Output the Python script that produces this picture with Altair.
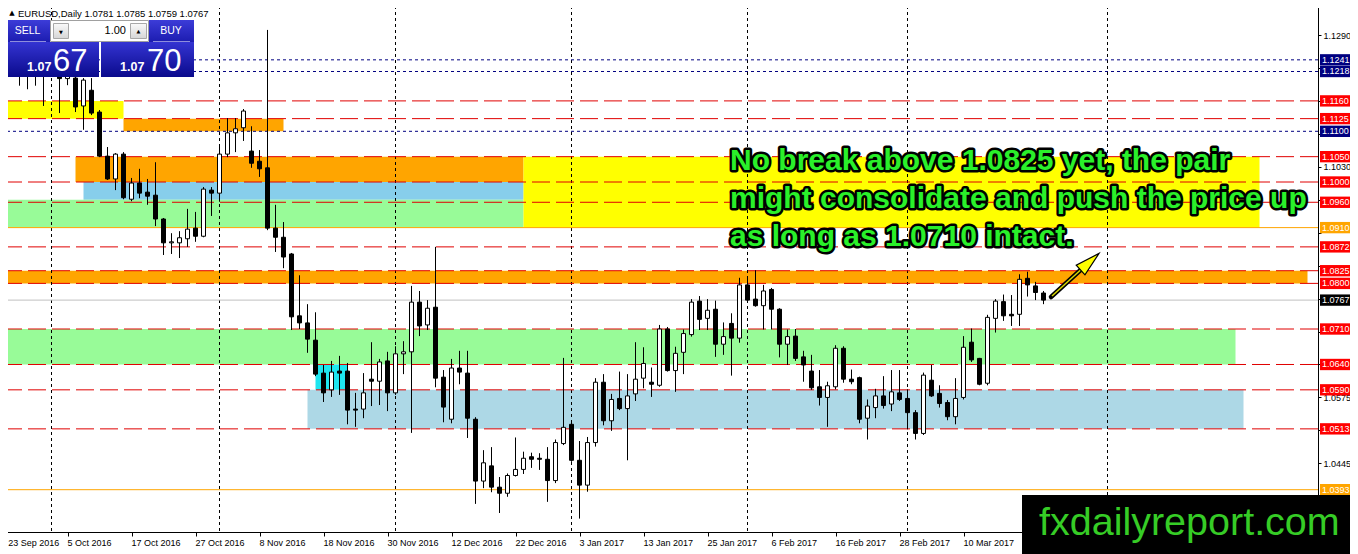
import altair as alt
import pandas as pd

# ---------------- data ----------------
opens = [1.1222, 1.1232, 1.1250, 1.1215, 1.1222, 1.1228, 1.1240, 1.1212, 1.1204, 1.1205,
         1.1150, 1.1181, 1.1138, 1.1051, 1.1006, 1.1055, 1.0966, 1.0998, 1.0980, 1.0974,
         1.0927, 1.0880, 1.0880, 1.0888, 1.0909, 1.0893, 1.0984, 1.0978, 1.1055, 1.1097,
         1.1107, 1.1061, 1.1041, 1.1028, 1.0909, 1.0891, 1.0858, 1.0736, 1.0722, 1.0688,
         1.0623, 1.0590, 1.0627, 1.0627, 1.0552, 1.0552, 1.0611, 1.0607, 1.0647, 1.0584,
         1.0661, 1.0665, 1.0763, 1.0718, 1.0753, 1.0615, 1.0532, 1.0633, 1.0623, 1.0532,
         1.0410, 1.0440, 1.0398, 1.0386, 1.0421, 1.0433, 1.0458, 1.0455, 1.0453, 1.0411,
         1.0484, 1.0522, 1.0451, 1.0402, 1.0486, 1.0605, 1.0529, 1.0573, 1.0553, 1.0582,
         1.0613, 1.0605, 1.0599, 1.0710, 1.0628, 1.0664, 1.0699, 1.0765, 1.0731, 1.0749,
         1.0680, 1.0721, 1.0692, 1.0797, 1.0769, 1.0756, 1.0788, 1.0749, 1.0680, 1.0696,
         1.0655, 1.0627, 1.0596, 1.0575, 1.0596, 1.0672, 1.0611, 1.0614, 1.0534, 1.0555,
         1.0578, 1.0562, 1.0584, 1.0573, 1.0545, 1.0504, 1.0609, 1.0583, 1.0565, 1.0537,
         1.0575, 1.0684, 1.0652, 1.0603, 1.0731, 1.0764, 1.0739, 1.0739, 1.0810, 1.0795,
         1.0781]
highs = [1.1245, 1.1258, 1.1256, 1.1240, 1.1252, 1.1250, 1.1250, 1.1218, 1.1245, 1.1212,
         1.1205, 1.1205, 1.1142, 1.1069, 1.1057, 1.1059, 1.1008, 1.1026, 1.1006, 1.1039,
         1.0929, 1.0899, 1.0903, 1.0947, 1.0941, 1.0990, 1.0990, 1.1073, 1.1126, 1.1126,
         1.1144, 1.1110, 1.1063, 1.1300, 1.0955, 1.0921, 1.0860, 1.0816, 1.0759, 1.0743,
         1.0639, 1.0647, 1.0657, 1.0643, 1.0584, 1.0623, 1.0684, 1.0651, 1.0665, 1.0676,
         1.0686, 1.0795, 1.0785, 1.0767, 1.0872, 1.0629, 1.0651, 1.0667, 1.0667, 1.0536,
         1.0471, 1.0477, 1.0418, 1.0425, 1.0496, 1.0468, 1.0466, 1.0465, 1.0477, 1.0492,
         1.0653, 1.0527, 1.0489, 1.0497, 1.0613, 1.0621, 1.0582, 1.0626, 1.0621, 1.0684,
         1.0674, 1.0634, 1.0718, 1.0714, 1.0675, 1.0709, 1.0769, 1.0775, 1.0769, 1.0766,
         1.0723, 1.0741, 1.0811, 1.0810, 1.0826, 1.0797, 1.0791, 1.0751, 1.0709, 1.0710,
         1.0667, 1.0659, 1.0629, 1.0606, 1.0678, 1.0676, 1.0630, 1.0616, 1.0571, 1.0592,
         1.0617, 1.0629, 1.0629, 1.0591, 1.0550, 1.0624, 1.0639, 1.0599, 1.0570, 1.0613,
         1.0696, 1.0711, 1.0653, 1.0738, 1.0769, 1.0778, 1.0777, 1.0818, 1.0823, 1.0803,
         1.0785]
lows = [1.1190, 1.1212, 1.1190, 1.1183, 1.1190, 1.1150, 1.1208, 1.1136, 1.1191, 1.1138,
        1.1103, 1.1132, 1.1049, 1.1004, 1.0984, 1.0966, 1.0962, 1.0968, 1.0955, 1.0913,
        1.0856, 1.0858, 1.0850, 1.0872, 1.0882, 1.0891, 1.0933, 1.0961, 1.1049, 1.1059,
        1.1081, 1.1028, 1.1010, 1.0905, 1.0862, 1.0830, 1.0708, 1.0710, 1.0663, 1.0617,
        1.0566, 1.0576, 1.0580, 1.0522, 1.0517, 1.0534, 1.0558, 1.0560, 1.0548, 1.0580,
        1.0621, 1.0505, 1.0696, 1.0708, 1.0595, 1.0526, 1.0524, 1.0601, 1.0495, 1.0365,
        1.0396, 1.0388, 1.0347, 1.0379, 1.0419, 1.0424, 1.0436, 1.0432, 1.0369, 1.0406,
        1.0481, 1.0448, 1.0336, 1.0389, 1.0478, 1.0520, 1.0509, 1.0550, 1.0451, 1.0568,
        1.0593, 1.0576, 1.0596, 1.0626, 1.0586, 1.0621, 1.0695, 1.0708, 1.0708, 1.0655,
        1.0659, 1.0618, 1.0683, 1.0764, 1.0754, 1.0709, 1.0709, 1.0654, 1.0639, 1.0647,
        1.0606, 1.0590, 1.0559, 1.0517, 1.0591, 1.0604, 1.0601, 1.0524, 1.0492, 1.0534,
        1.0553, 1.0548, 1.0568, 1.0512, 1.0492, 1.0501, 1.0576, 1.0555, 1.0530, 1.0522,
        1.0571, 1.0645, 1.0599, 1.0599, 1.0703, 1.0726, 1.0716, 1.0716, 1.0774, 1.0767,
        1.0759]
closes = [1.1195, 1.1250, 1.1215, 1.1222, 1.1228, 1.1240, 1.1212, 1.1204, 1.1215, 1.1148,
          1.1201, 1.1136, 1.1051, 1.1006, 1.1055, 1.0969, 1.0998, 1.0978, 1.0972, 1.0927,
          1.0880, 1.0882, 1.0890, 1.0907, 1.0893, 1.0986, 1.0978, 1.1055, 1.1097, 1.1105,
          1.1140, 1.1037, 1.1026, 1.0909, 1.0891, 1.0852, 1.0734, 1.0722, 1.0690, 1.0621,
          1.0584, 1.0625, 1.0623, 1.0550, 1.0550, 1.0584, 1.0607, 1.0645, 1.0584, 1.0661,
          1.0665, 1.0763, 1.0716, 1.0751, 1.0613, 1.0556, 1.0633, 1.0625, 1.0534, 1.0410,
          1.0446, 1.0398, 1.0386, 1.0421, 1.0433, 1.0455, 1.0453, 1.0453, 1.0411, 1.0486,
          1.0516, 1.0451, 1.0402, 1.0486, 1.0605, 1.0529, 1.0571, 1.0553, 1.0578, 1.0611,
          1.0642, 1.0601, 1.0710, 1.0628, 1.0662, 1.0701, 1.0763, 1.0729, 1.0747, 1.0680,
          1.0695, 1.0692, 1.0797, 1.0767, 1.0756, 1.0785, 1.0749, 1.0680, 1.0695, 1.0652,
          1.0639, 1.0594, 1.0575, 1.0598, 1.0672, 1.0611, 1.0606, 1.0532, 1.0558, 1.0578,
          1.0559, 1.0586, 1.0571, 1.0545, 1.0504, 1.0619, 1.0578, 1.0563, 1.0537, 1.0573,
          1.0674, 1.0649, 1.0601, 1.0733, 1.0765, 1.0736, 1.0736, 1.0808, 1.0797, 1.0782,
          1.0767]

date_labels = ["23 Sep 2016", "5 Oct 2016", "17 Oct 2016", "27 Oct 2016", "8 Nov 2016",
               "18 Nov 2016", "30 Nov 2016", "12 Dec 2016", "22 Dec 2016", "3 Jan 2017",
               "13 Jan 2017", "25 Jan 2017", "6 Feb 2017", "16 Feb 2017", "28 Feb 2017",
               "10 Mar 2017"]
label_bars = [0, 8, 16, 24, 32, 40, 48, 56, 64, 72, 80, 88, 96, 104, 112, 120]
month_bars = [6, 27, 49, 71, 93, 113, 138]

price_ticks = [1.0380, 1.0445, 1.0510, 1.0575, 1.0640, 1.0705, 1.0770, 1.0835,
               1.0900, 1.0965, 1.1030, 1.1095, 1.1160, 1.1225, 1.1290]
shown_price_labels = [1.0445, 1.0575, 1.1030, 1.1290]

red_levels = [1.1160, 1.1125, 1.1050, 1.1000, 1.0960, 1.0872, 1.0825, 1.0800,
              1.0710, 1.0640, 1.0590, 1.0513]
navy_levels = [1.1241, 1.1218, 1.1100]
orange_levels = [1.0910, 1.0393]
bid_level = [1.0767]

zone_start = [-2, 15, 9, 10, -2, 65, -2, -2, 38, 39]
zone_end = [15, 35, 65, 65, 65, 157, 163, 154, 155, 43]
zone_top = [1.1160, 1.1125, 1.1050, 1.1000, 1.0965, 1.1050, 1.0825, 1.0710, 1.0590, 1.0640]
zone_bottom = [1.1125, 1.1100, 1.1000, 1.0965, 1.0910, 1.0910, 1.0800, 1.0640, 1.0513, 1.0590]
zone_color = ["#ffff00", "#ffa500", "#ffa500", "#87ceeb", "#98fb98", "#ffff00",
              "#ffa500", "#98fb98", "#add8e6", "#1ee6f0"]

box_levels = [1.1241, 1.1218, 1.1160, 1.1125, 1.1100, 1.1050, 1.1000, 1.0960, 1.0910,
              1.0872, 1.0825, 1.0800, 1.0767, 1.0710, 1.0640, 1.0590, 1.0513, 1.0393]
box_colors = ["#000080", "#000080", "#ff0000", "#ff0000", "#000080", "#ff0000", "#ff0000",
              "#ff0000", "#ffa500", "#ff0000", "#ff0000", "#ff0000", "#000000", "#ff0000",
              "#ff0000", "#ff0000", "#ff0000", "#ffa500"]

note_lines = ["No break above 1.0825 yet, the pair",
              "might consolidate and push the price up",
              "as long as 1.0710 intact."]

header = "EURUSD,Daily  1.0781 1.0785 1.0759 1.0767"

# ---------------- scales / axes ----------------
xs = alt.Scale(domain=[-0.4375, 164.3125], nice=False, zero=False)
ys = alt.Scale(domain=[1.030953, 1.135905], nice=False, zero=False)
FONT = "Liberation Sans"

shown_expr = "indexof([" + ",".join("'%.4f'" % v for v in shown_price_labels) + \
    "], format(datum.value, '.4f')) >= 0 ? format(datum.value, '.4f') : ''"

XA = alt.Axis(values=label_bars, labels=False, title=None, grid=False,
              tickSize=4, domainColor="black", tickColor="black")
YA = alt.Axis(orient="right", values=price_ticks, labelExpr=shown_expr, title=None,
              grid=False, domainColor="black", tickColor="black", tickSize=3,
              labelColor="black", labelFontSize=9, labelFont=FONT, labelPadding=2,
              labelFlush=False, labelOverlap=False)

candles = pd.DataFrame({"i": list(range(len(opens))), "o": opens, "h": highs,
                        "l": lows, "c": closes})
zones = pd.DataFrame({"x0": zone_start, "x1": zone_end, "p0": zone_top,
                      "p1": zone_bottom, "col": zone_color})
one = pd.DataFrame({"k": [0]})

# zones (background rectangles)
zone_layer = alt.Chart(zones).mark_rect(clip=True).encode(
    x=alt.X("x0:Q", scale=xs, axis=XA),
    x2="x1:Q",
    y=alt.Y("p0:Q", scale=ys, axis=YA),
    y2="p1:Q",
    fill=alt.Fill("col:N", scale=None),
)

# vertical grid
grid_layer = alt.Chart(pd.DataFrame({"m": month_bars})).mark_rule(
    color="black", strokeWidth=1, strokeDash=[3, 3]
).encode(x=alt.X("m:Q", scale=xs, axis=XA))

# date labels under the time axis
dates = pd.DataFrame({"b": label_bars, "d": date_labels})
date_layer = alt.Chart(dates).transform_calculate(
    bx="datum.b == 0 ? 0.6 : datum.b"
).mark_text(font=FONT, fontSize=9, color="black", align="left", baseline="middle").encode(
    x=alt.X("bx:Q", scale=xs, axis=XA), y=alt.value(543), text="d:N")


def hlines(levels, color, dash=None, width=1):
    kw = dict(color=color, strokeWidth=width)
    if dash:
        kw["strokeDash"] = dash
    return alt.Chart(pd.DataFrame({"lv": levels})).mark_rule(**kw).encode(
        y=alt.Y("lv:Q", scale=ys, axis=YA))


red_layer = hlines(red_levels, "#e00000", [18, 6])
navy_layer = hlines(navy_levels, "#000080", [3, 3])
orange_layer = hlines(orange_levels, "#ffa500")
bid_layer = hlines(bid_level, "#c0c0c0")

wick_layer = alt.Chart(candles).mark_rule(color="black", strokeWidth=1).encode(
    x=alt.X("i:Q", scale=xs, axis=XA),
    y=alt.Y("l:Q", scale=ys, axis=YA),
    y2="h:Q",
)
body_layer = alt.Chart(candles).transform_calculate(
    x0="datum.i - 0.25", x1="datum.i + 0.25",
    fc="datum.c >= datum.o ? 'white' : 'black'"
).mark_rect(stroke="black", strokeWidth=1).encode(
    x=alt.X("x0:Q", scale=xs, axis=XA),
    x2="x1:Q",
    y=alt.Y("o:Q", scale=ys, axis=YA),
    y2="c:Q",
    fill=alt.Fill("fc:N", scale=None),
)

# annotation text
notes = pd.DataFrame({"t": note_lines, "k": [0, 1, 2]})
note_base = alt.Chart(notes).transform_calculate(ly="170 + 38 * datum.k")
note_outline = note_base.mark_text(
    font=FONT, fontWeight="bold", fontSize=30, align="left", baseline="alphabetic",
    fill="black", stroke="black", strokeWidth=5, strokeJoin="round"
).encode(x=alt.value(730), y=alt.Y("ly:Q", scale=None), text="t:N")
note_fill = note_base.mark_text(
    font=FONT, fontWeight="bold", fontSize=30, align="left", baseline="alphabetic",
    fill="#2af02a"
).encode(x=alt.value(730), y=alt.Y("ly:Q", scale=None), text="t:N")

# arrow
arrow_black = alt.Chart(one).mark_rule(color="black", strokeWidth=4.5, strokeCap="round").encode(
    x=alt.value(1051), x2=alt.value(1086), y=alt.value(297), y2=alt.value(265))
arrow_yel = alt.Chart(one).mark_rule(color="#d8d800", strokeWidth=1.5).encode(
    x=alt.value(1052), x2=alt.value(1085), y=alt.value(296), y2=alt.value(266))
arrow_head = alt.Chart(one).mark_point(
    shape="M0,-1L0.42,0.6L-0.42,0.6Z", size=960, angle=48, filled=True,
    fill="#ffff00", stroke="black", strokeWidth=1.2, opacity=1
).encode(x=alt.value(1087.5), y=alt.value(263.8))

# price boxes on the right scale
boxes = pd.DataFrame({"lv": box_levels, "bc": box_colors})
box_rect = alt.Chart(boxes).transform_calculate(
    t="datum.lv + 0.00112", b="datum.lv - 0.00112"
).mark_rect().encode(
    x=alt.value(1320), x2=alt.value(1352),
    y=alt.Y("t:Q", scale=ys, axis=YA), y2="b:Q",
    fill=alt.Fill("bc:N", scale=None),
)
box_text = alt.Chart(boxes).transform_calculate(
    s="format(datum.lv, '.4f')"
).mark_text(font=FONT, fontSize=9, color="white", align="left", baseline="middle").encode(
    x=alt.value(1322), y=alt.Y("lv:Q", scale=ys, axis=YA), text="s:N")

# watermark
wm_rect = alt.Chart(one).mark_rect(color="black").encode(
    x=alt.value(1022), x2=alt.value(1360), y=alt.value(495), y2=alt.value(556))
wm_text = alt.Chart(one).mark_text(
    text="fxdailyreport.com", font=FONT, fontSize=39.5, color="#36cc26",
    align="left", baseline="alphabetic"
).encode(x=alt.value(1039), y=alt.value(535))


def prect(x1, y1, x2, y2, **kw):
    return alt.Chart(one).mark_rect(**kw).encode(
        x=alt.value(x1), x2=alt.value(x2), y=alt.value(y1), y2=alt.value(y2))


def ptext(txt, x, y, **kw):
    return alt.Chart(one).mark_text(text=txt, **kw).encode(x=alt.value(x), y=alt.value(y))


btn_grad = alt.Gradient(gradient="linear", x1=0, x2=0, y1=0, y2=1,
                        stops=[alt.GradientStop(color="#3c3cd8", offset=0),
                               alt.GradientStop(color="#1c1cb0", offset=1)])
price_grad = alt.Gradient(gradient="linear", x1=0, x2=0, y1=0, y2=1,
                          stops=[alt.GradientStop(color="#3434d2", offset=0),
                                 alt.GradientStop(color="#0a0a8c", offset=1)])
spin_grad = alt.Gradient(gradient="linear", x1=0, x2=0, y1=0, y2=1,
                         stops=[alt.GradientStop(color="#fafafa", offset=0),
                                alt.GradientStop(color="#d6d6d6", offset=1)])

panel = [
    prect(5, 20, 50, 42, fill=btn_grad),
    prect(149, 20, 194, 42, fill=btn_grad),
    prect(5, 42, 99, 77, fill=price_grad),
    prect(101, 42, 194, 77, fill=price_grad),
    prect(10, 41, 46, 42, fill="#8e8edc"),
    prect(153, 41, 190, 42, fill="#8e8edc"),
    prect(50.5, 20.5, 148.5, 41.5, fill="white", stroke="#a0a0a0", strokeWidth=1),
    prect(53.5, 23.5, 68.5, 38.5, fill=spin_grad, stroke="#a8a8a8", strokeWidth=1),
    prect(130.5, 23.5, 146.5, 38.5, fill=spin_grad, stroke="#a8a8a8", strokeWidth=1),
    ptext("\u25BC", 61, 31.5, font="DejaVu Sans", fontSize=5, color="black",
          align="center", baseline="middle"),
    ptext("\u25B2", 138.5, 30.5, font="DejaVu Sans", fontSize=5, color="black",
          align="center", baseline="middle"),
    ptext("1.00", 126, 31, font=FONT, fontSize=11, color="black", align="right",
          baseline="middle"),
    ptext("SELL", 27.5, 31, font=FONT, fontSize=10.5, color="white", align="center",
          baseline="middle"),
    ptext("BUY", 171, 31, font=FONT, fontSize=10.5, color="white", align="center",
          baseline="middle"),
    ptext("1.07", 27, 71, font=FONT, fontSize=12.5, fontWeight="bold", color="white",
          align="left", baseline="alphabetic"),
    ptext("67", 53, 71, font=FONT, fontSize=31, color="white", align="left",
          baseline="alphabetic"),
    ptext("1.07", 120, 71, font=FONT, fontSize=12.5, fontWeight="bold", color="white",
          align="left", baseline="alphabetic"),
    ptext("70", 147, 71, font=FONT, fontSize=31, color="white", align="left",
          baseline="alphabetic"),
    ptext("\u25B2", 12, 13, font="DejaVu Sans", fontSize=7, color="black",
          align="center", baseline="middle"),
    ptext(header, 18, 17, font=FONT, fontSize=9.5, color="black", align="left",
          baseline="alphabetic"),
]

chart = alt.layer(
    zone_layer, grid_layer, red_layer, navy_layer, orange_layer, bid_layer,
    wick_layer, body_layer, date_layer, note_outline, note_fill,
    arrow_black, arrow_yel, arrow_head,
    box_rect, box_text, wm_rect, wm_text, *panel
).properties(
    width=1318, height=532,
    autosize=alt.AutoSizeParams(type="none"),
    padding={"left": -8, "top": -8, "right": 32, "bottom": 22},
    background="white",
).configure_view(stroke=None)

chart.save("out.html", embed_options={"renderer": "svg", "actions": False})
